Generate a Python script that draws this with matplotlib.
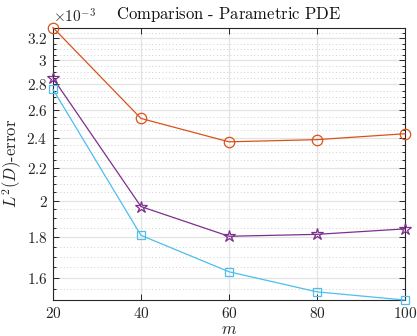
import matplotlib
matplotlib.use("Agg")
import matplotlib.pyplot as plt
from matplotlib.ticker import FixedLocator, FixedFormatter, NullFormatter
import numpy as np

plt.rcParams['mathtext.fontset'] = 'cm'
plt.rcParams['font.family'] = 'serif'
plt.rcParams['font.serif'] = ['DejaVu Serif']

m = [20, 40, 60, 80, 100]
scale = 1e-3
err_orange = [3.30, 2.537, 2.371, 2.386, 2.427]
err_purple = [2.851, 1.966, 1.804, 1.814, 1.843]
err_cyan = [2.76, 1.809, 1.628, 1.536, 1.50]

ytick_vals = [1.6, 1.8, 2.0, 2.2, 2.4, 2.6, 2.8, 3.0, 3.2]
ytick_labels = ['1.6', '1.8', '2', '2.2', '2.4', '2.6', '2.8', '3', '3.2']
xtick_vals = [20, 40, 60, 80, 100]
xtick_labels = ['20', '40', '60', '80', '100']

fig = plt.figure(figsize=(4.17, 3.36), dpi=100)
ax = fig.add_axes([0.127, 0.107, 0.844, 0.811])

c_or = '#D95319'
c_pu = '#7E2F8E'
c_cy = '#4DBEEE'
ax.plot(m, np.array(err_orange) * scale, '-o', color=c_or, mfc='none', ms=7.5, lw=0.9, mew=0.9, clip_on=False, zorder=3)
ax.plot(m, np.array(err_purple) * scale, '-*', color=c_pu, mfc='none', ms=9, lw=0.9, mew=0.9, clip_on=False, zorder=3)
ax.plot(m, np.array(err_cyan) * scale, '-s', color=c_cy, mfc='none', ms=6, lw=0.9, mew=0.9, clip_on=False, zorder=3)

ax.set_yscale('log')
ax.set_xlim(20, 100)
ax.set_ylim(min(err_cyan) * scale, max(err_orange) * scale)

ax.yaxis.set_major_locator(FixedLocator([v * scale for v in ytick_vals]))
ax.yaxis.set_major_formatter(FixedFormatter(['$' + s + '$' for s in ytick_labels]))
minor = [round(1.5 + 0.05 * i, 2) for i in range(0, 37)]
minor = [v for v in minor if v not in ytick_vals]
ax.yaxis.set_minor_locator(FixedLocator([v * scale for v in minor]))
ax.yaxis.set_minor_formatter(NullFormatter())
ax.xaxis.set_major_locator(FixedLocator(xtick_vals))
ax.xaxis.set_major_formatter(FixedFormatter(['$' + s + '$' for s in xtick_labels]))

ax.grid(True, which='major', color='#e3e3e3', lw=0.9)
ax.grid(True, which='minor', axis='y', color='#d0d0d0', lw=0.7, ls=(0, (1, 2.5)))
ax.set_axisbelow(True)

for sp in ax.spines.values():
    sp.set_color('#262626')
    sp.set_linewidth(0.8)
ax.tick_params(which='both', direction='in', top=True, right=True, color='#262626', labelsize=11, labelcolor='#262626', width=0.7, pad=4)
ax.tick_params(which='major', length=4)
ax.tick_params(which='minor', length=2.5)

ax.set_title(r'$\mathrm{Comparison\ \text{-}\ Parametric\ PDE}$', fontsize=12, color='#111111', pad=6)
ax.set_xlabel(r'$m$', fontsize=12, color='#262626', labelpad=0)
ax.set_ylabel(r'$L^2(D)\mathrm{\text{-}error}$', fontsize=12, color='#262626')
ax.yaxis.set_label_coords(-0.083, 0.5)
ax.text(0.0, 1.005, r'$\times10^{-3}$', transform=ax.transAxes, ha='left', va='bottom', fontsize=11, color='#262626')

fig.savefig('out.png', dpi=100)
